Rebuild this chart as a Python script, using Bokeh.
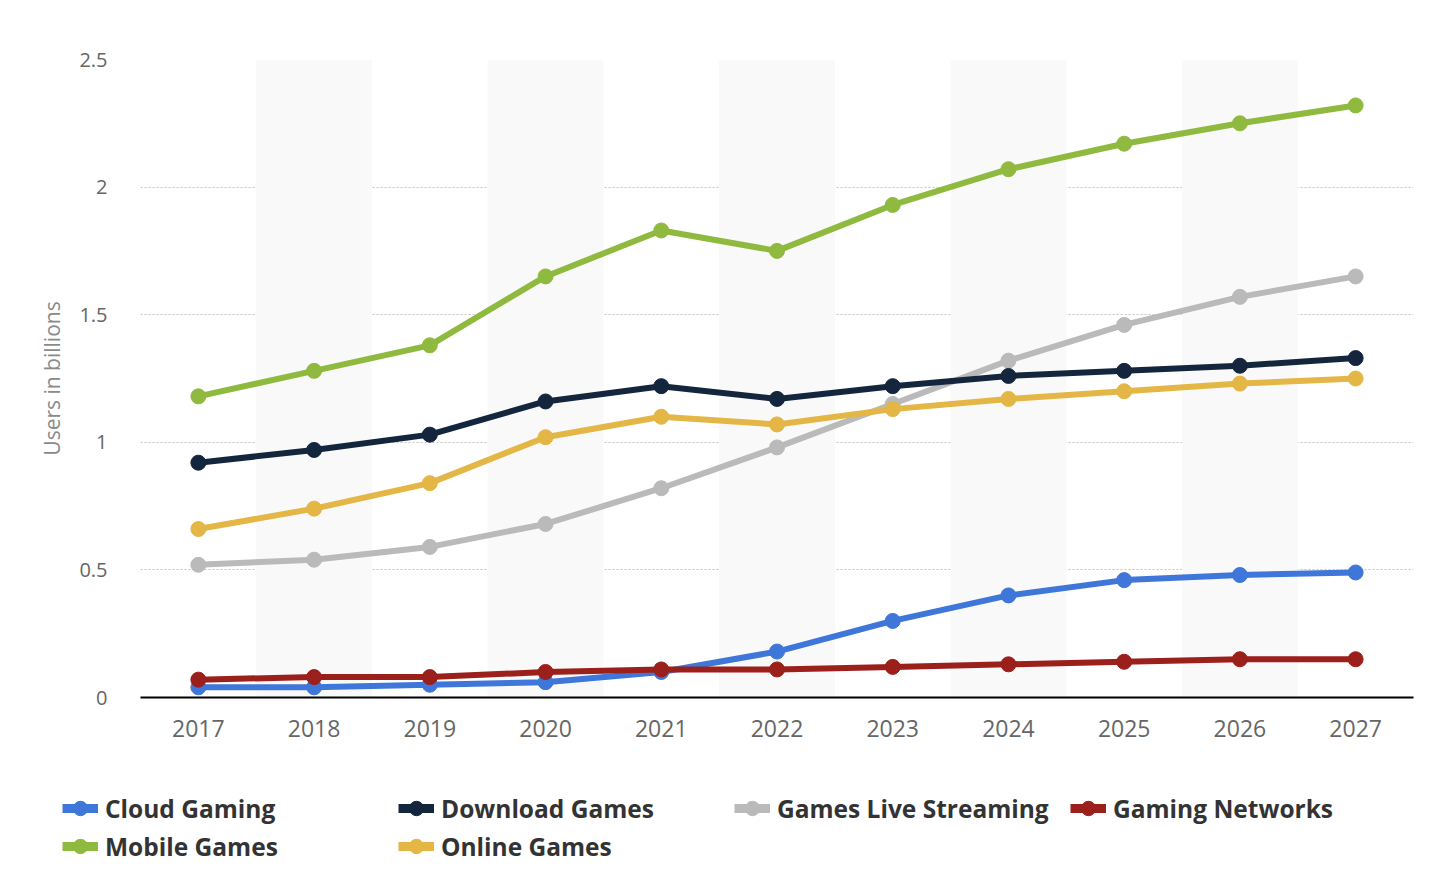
from bokeh.plotting import figure
from bokeh.models import Range1d, Legend, LegendItem, FixedTicker
from bokeh.layouts import column, row
from bokeh.embed import file_html
from bokeh.resources import INLINE

years = [2017, 2018, 2019, 2020, 2021, 2022, 2023, 2024, 2025, 2026, 2027]
cloud_gaming = [0.04, 0.04, 0.05, 0.06, 0.10, 0.18, 0.30, 0.40, 0.46, 0.48, 0.49]
download_games = [0.92, 0.97, 1.03, 1.16, 1.22, 1.17, 1.22, 1.26, 1.28, 1.30, 1.33]
games_live_streaming = [0.52, 0.54, 0.59, 0.68, 0.82, 0.98, 1.15, 1.32, 1.46, 1.57, 1.65]
gaming_networks = [0.07, 0.08, 0.08, 0.10, 0.11, 0.11, 0.12, 0.13, 0.14, 0.15, 0.15]
mobile_games = [1.18, 1.28, 1.38, 1.65, 1.83, 1.75, 1.93, 2.07, 2.17, 2.25, 2.32]
online_games = [0.66, 0.74, 0.84, 1.02, 1.10, 1.07, 1.13, 1.17, 1.20, 1.23, 1.25]

series_names = ["Cloud Gaming", "Download Games", "Games Live Streaming",
                "Gaming Networks", "Mobile Games", "Online Games"]
series_values = [cloud_gaming, download_games, games_live_streaming,
                 gaming_networks, mobile_games, online_games]
series_colors = ["#3f76d9", "#14263d", "#bababa", "#9b1f1a", "#8fba3f", "#e4b646"]
draw_order = [0, 2, 1, 3, 4, 5]

y_ticks = [0, 0.5, 1, 1.5, 2, 2.5]
y_tick_labels = {0: "0", 0.5: "0.5", 1: "1", 1.5: "1.5", 2: "2", 2.5: "2.5"}
band_years = years[1::2]

W = 1440

p = figure(width=W, height=760, output_backend="svg", toolbar_location=None,
           x_range=Range1d(2016.5, 2027.5), y_range=Range1d(0, 2.5),
           min_border_left=140, min_border_right=W - 1413, min_border_top=59,
           min_border_bottom=63)
p.outline_line_color = None
p.background_fill_color = "white"
p.border_fill_color = "white"

# alternating bands
p.vbar(x=band_years, width=1, top=2.497, bottom=0, fill_color="#f9f9f9",
       line_color=None)

p.xgrid.grid_line_color = None
p.ygrid.grid_line_color = "#c4c4c4"
p.ygrid.grid_line_dash = "2 2"
p.ygrid.grid_line_width = 1
p.ygrid.ticker = FixedTicker(ticks=y_ticks)

p.xaxis.ticker = FixedTicker(ticks=years)
p.xaxis.axis_line_color = "#000000"
p.xaxis.axis_line_width = 2
p.xaxis.major_tick_line_color = None
p.xaxis.minor_tick_line_color = None
p.xaxis.major_label_standoff = 16
p.xaxis.major_label_text_font = "Open Sans"
p.xaxis.major_label_text_font_size = "23px"
p.xaxis.major_label_text_color = "#666666"

p.yaxis.ticker = FixedTicker(ticks=y_ticks)
p.yaxis.major_label_overrides = y_tick_labels
p.yaxis.axis_line_color = None
p.yaxis.major_tick_line_color = None
p.yaxis.minor_tick_line_color = None
p.yaxis.major_label_standoff = 27
p.yaxis.major_label_text_font = "Open Sans"
p.yaxis.major_label_text_font_size = "20px"
p.yaxis.major_label_text_color = "#666666"
p.yaxis.axis_label = "Users in billions"
p.yaxis.axis_label_text_font = "Open Sans"
p.yaxis.axis_label_text_font_size = "21px"
p.yaxis.axis_label_text_font_style = "normal"
p.yaxis.axis_label_text_color = "#8a8a8a"
p.yaxis.axis_label_standoff = 10

for i in draw_order:
    p.line(years, series_values[i], line_color=series_colors[i], line_width=6)
    p.scatter(years, series_values[i], size=15, fill_color=series_colors[i],
              line_color=series_colors[i], marker="circle")

# legend in its own strip below the chart
lg = figure(width=W, height=130, output_backend="svg", toolbar_location=None,
            x_range=Range1d(0, 1), y_range=Range1d(0, 1),
            x_axis_location=None, y_axis_location=None,
            min_border_left=0, min_border_right=0, min_border_top=0,
            min_border_bottom=0)
lg.outline_line_color = None
lg.xgrid.grid_line_color = None
lg.ygrid.grid_line_color = None
lg.background_fill_color = "white"
lg.border_fill_color = "white"

items = []
for name, col in zip(series_names, series_colors):
    lr = lg.line(x=[-5, -4], y=[-5, -4], line_color=col, line_width=9)
    sr = lg.scatter(x=[-5], y=[-5], size=15, fill_color=col, line_color=col,
                    marker="circle")
    items.append(LegendItem(label=name, renderers=[lr, sr]))

legend = Legend(items=items, orientation="horizontal", ncols=4,
                location=(62, 25), padding=0, margin=0, spacing=0,
                glyph_width=36, glyph_height=38, label_height=38,
                label_standoff=7, label_width=293,
                border_line_color=None, background_fill_alpha=0,
                label_text_font="Open Sans", label_text_font_size="24.5px",
                label_text_font_style="bold", label_text_color="#333333")
lg.add_layout(legend)

layout = column(row(p), row(lg), spacing=0)
open("out.html", "w").write(file_html(layout, INLINE))
